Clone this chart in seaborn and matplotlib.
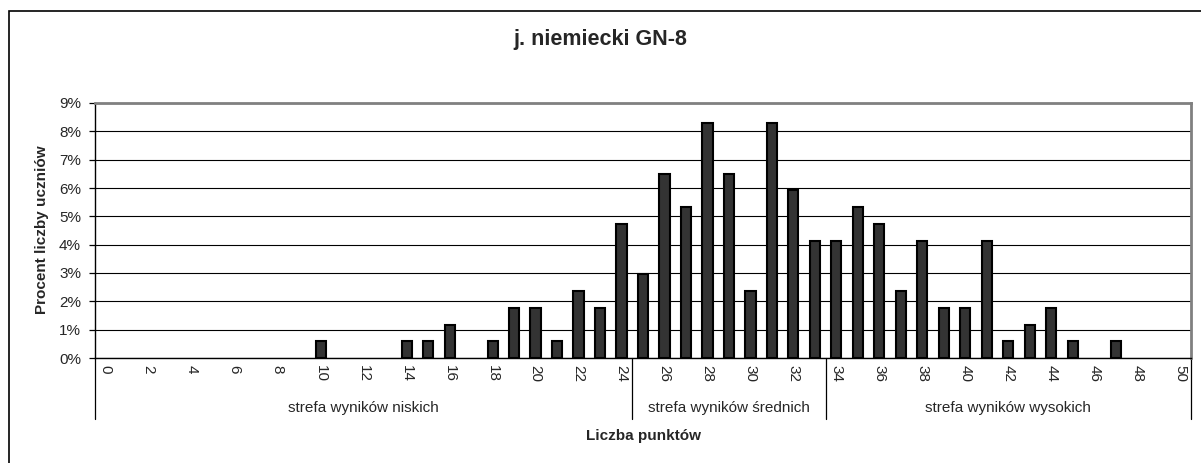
import numpy as np
import pandas as pd
import matplotlib.pyplot as plt
import seaborn as sns
from matplotlib.lines import Line2D
from matplotlib.patches import Rectangle
from matplotlib.ticker import FuncFormatter, FixedLocator
import matplotlib.transforms as mtransforms

# Data
points = list(range(0, 51))
percent = [
    0, 0, 0, 0, 0, 0, 0, 0, 0, 0,
    0.59, 0, 0, 0, 0.59, 0.59, 1.18, 0, 0.59, 1.78,
    1.78, 0.59, 2.37, 1.78, 4.73, 2.96, 6.51, 5.33, 8.28, 6.51,
    2.37, 8.28, 5.92, 4.14, 4.14, 5.33, 4.73, 2.37, 4.14, 1.78,
    1.78, 4.14, 0.59, 1.18, 1.78, 0.59, 0, 0.59, 0, 0,
    0,
]
zone_names = ["strefa wyników niskich", "strefa wyników średnich", "strefa wyników wysokich"]
zone_start = [0, 25, 34]
zone_end = [24, 33, 50]

title = "j. niemiecki GN-8"
y_label = "Procent liczby uczniów"
x_label = "Liczba punktów"

sns.set_style("white")
plt.rcParams["font.family"] = ["Liberation Sans", "DejaVu Sans"]

df = pd.DataFrame({"pts": [str(p) for p in points], "pct": percent})

fig = plt.figure(figsize=(12.01, 4.63), dpi=100)
ax = fig.add_axes([95 / 1201, 105 / 463, (1191 - 95) / 1201, 255 / 463])

sns.barplot(
    data=df,
    x="pts",
    y="pct",
    order=df["pts"],
    color="#333333",
    saturation=1,
    edgecolor="black",
    linewidth=1.5,
    width=0.47,
    ax=ax,
    zorder=3,
)
# empty bars should not leave stubs on the axis
for p in ax.patches:
    if p.get_height() == 0:
        p.set_linewidth(0)

ax.set_xlim(-0.5, len(points) - 0.5)
ax.set_ylim(0, 9)
ax.set_yticks(range(0, 10))
ax.yaxis.set_major_formatter(FuncFormatter(lambda v, _: f"{v:.0f}%"))
ax.grid(True, axis="y", color="black", linewidth=0.8, zorder=0)
ax.set_axisbelow(True)

# even labels only, tick lines between categories
ax.set_xticks(range(len(points)))
ax.set_xticklabels([str(p) if p % 2 == 0 else "" for p in points], rotation=270)
ax.xaxis.set_minor_locator(FixedLocator(np.arange(-0.5, len(points), 1.0)))
ax.tick_params(axis="x", which="major", length=0, pad=5, labelsize=11)
ax.tick_params(axis="x", which="minor", length=21, width=0.9, color="black", direction="out")
ax.tick_params(axis="y", length=4, width=0.9, color="black", pad=6, labelsize=11, left=True)
for lbl in ax.get_xticklabels():
    lbl.set_va("top")
    lbl.set_ha("center")

ax.set_xlabel("")
ax.set_ylabel("")

for side in ["left", "bottom"]:
    ax.spines[side].set_color("black")
    ax.spines[side].set_linewidth(1.0)
for side in ["top", "right"]:
    ax.spines[side].set_color("#808080")
    ax.spines[side].set_linewidth(2.0)

# zone separators and labels
trans = mtransforms.blended_transform_factory(ax.transData, ax.transAxes)
edges = sorted(set([s - 0.5 for s in zone_start] + [e + 0.5 for e in zone_end]))
for e in edges:
    ax.add_line(Line2D([e, e], [0, -0.24], transform=trans, color="black",
                       linewidth=0.9, clip_on=False))
for name, s, e in zip(zone_names, zone_start, zone_end):
    ax.text((s + e) / 2, -0.197, name, transform=trans, ha="center", va="center",
            fontsize=11)

fig.text(0.5, 1 - 40 / 463, title, ha="center", va="center", fontsize=15.5,
         fontweight="bold")
fig.text(42 / 1201, 1 - 230 / 463, y_label, ha="center", va="center", rotation=90,
         fontsize=11, fontweight="bold")
fig.text((95 + 1191) / 2 / 1201, 1 - 436 / 463, x_label, ha="center", va="center",
         fontsize=11, fontweight="bold")

# outer chart frame (cut by the image edges)
fig.add_artist(Rectangle((8.5 / 1201, -0.1), 1.2, 1.1 - 11 / 463,
                         transform=fig.transFigure, fill=False,
                         edgecolor="black", linewidth=1.2))

fig.savefig("out.png", dpi=100)
